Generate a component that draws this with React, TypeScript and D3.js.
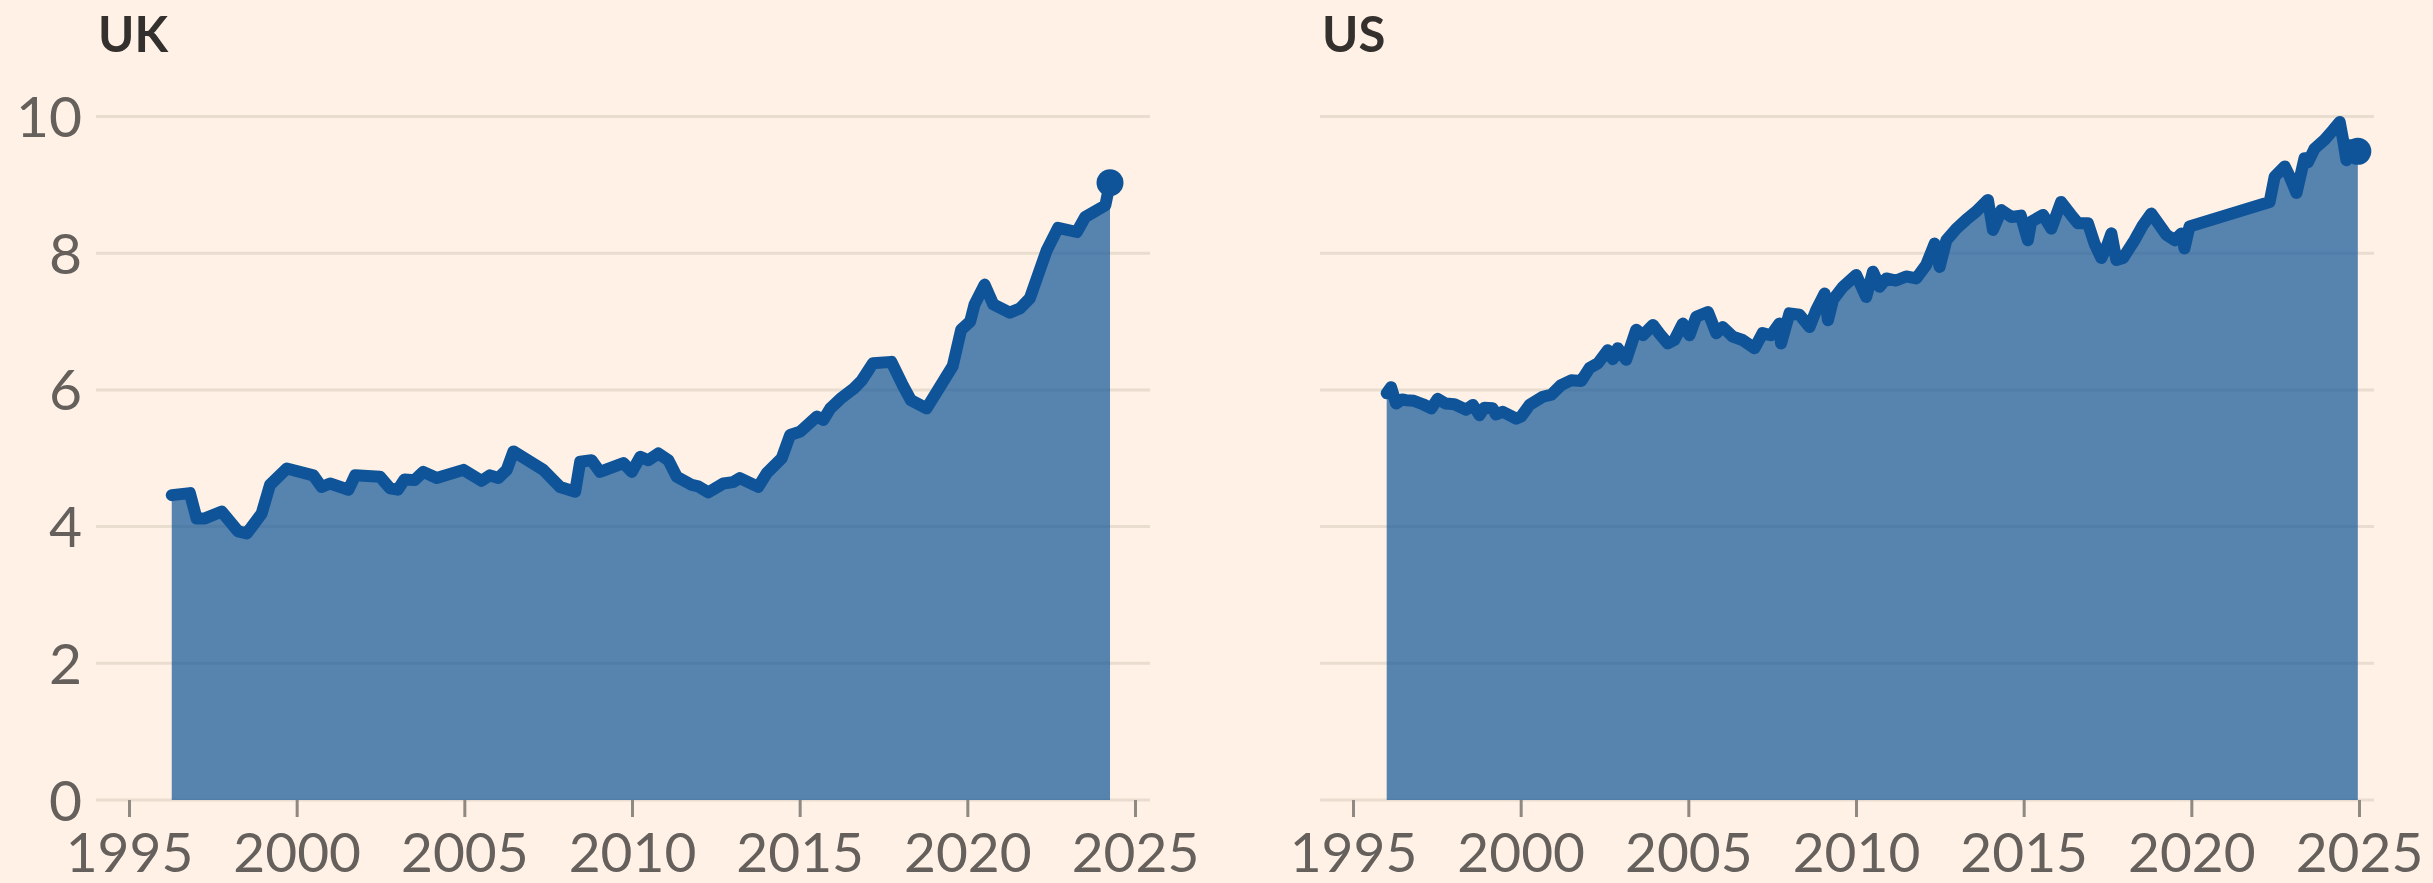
import React from "react";
import * as d3 from "d3";

const ukYears = [
  1996.26, 1996.8, 1997.0, 1997.25, 1997.75, 1998.24, 1998.5, 1998.94, 1999.19, 1999.69,
  2000.48, 2000.73, 2000.98, 2001.53, 2001.73, 2002.47, 2002.77, 2003.0, 2003.2, 2003.5,
  2003.76, 2004.16, 2004.96, 2005.5, 2005.75, 2006.0, 2006.25, 2006.45, 2007.34, 2007.84,
  2008.29, 2008.44, 2008.78, 2009.03, 2009.73, 2009.98, 2010.23, 2010.47, 2010.77, 2011.07,
  2011.32, 2011.77, 2011.96, 2012.26, 2012.71, 2013.0, 2013.2, 2013.75, 2014.0, 2014.45,
  2014.7, 2015.0, 2015.5, 2015.69, 2015.9, 2016.2, 2016.6, 2016.84, 2017.17, 2017.72,
  2018.07, 2018.3, 2018.77, 2019.55, 2019.8, 2020.07, 2020.2, 2020.5, 2020.76, 2021.25,
  2021.55, 2021.85, 2022.35, 2022.69, 2023.25, 2023.5, 2024.1, 2024.24,
];
const ukValues = [
  4.46, 4.49, 4.12, 4.12, 4.22, 3.93, 3.9, 4.19, 4.61, 4.85,
  4.75, 4.58, 4.63, 4.54, 4.75, 4.73, 4.56, 4.54, 4.69, 4.68,
  4.8, 4.71, 4.83, 4.67, 4.75, 4.71, 4.83, 5.1, 4.83, 4.58,
  4.51, 4.95, 4.97, 4.8, 4.93, 4.8, 5.02, 4.97, 5.07, 4.97,
  4.73, 4.61, 4.59, 4.5, 4.63, 4.65, 4.71, 4.58, 4.78, 5.0,
  5.34, 5.39, 5.61, 5.56, 5.73, 5.87, 6.02, 6.14, 6.39, 6.41,
  6.06, 5.85, 5.73, 6.35, 6.88, 7.0, 7.25, 7.54, 7.25, 7.13,
  7.19, 7.34, 8.04, 8.37, 8.31, 8.53, 8.7, 9.03,
];

const usYears = [
  1995.99, 1996.12, 1996.27, 1996.45, 1996.57, 1996.8, 1997.07, 1997.32, 1997.51, 1997.75,
  1998.01, 1998.36, 1998.56, 1998.76, 1998.9, 1999.15, 1999.25, 1999.45, 1999.85, 2000.0,
  2000.25, 2000.65, 2000.9, 2001.19, 2001.49, 2001.79, 2002.04, 2002.29, 2002.58, 2002.73,
  2002.88, 2003.13, 2003.43, 2003.63, 2003.93, 2004.13, 2004.37, 2004.57, 2004.82, 2005.02,
  2005.22, 2005.57, 2005.82, 2006.01, 2006.31, 2006.6, 2006.96, 2007.2, 2007.45, 2007.7,
  2007.75, 2008.0, 2008.3, 2008.6, 2008.8, 2009.05, 2009.15, 2009.3, 2009.6, 2009.99,
  2010.29, 2010.49, 2010.69, 2010.89, 2011.18, 2011.48, 2011.78, 2012.08, 2012.33, 2012.48,
  2012.68, 2012.98, 2013.27, 2013.57, 2013.92, 2014.07, 2014.32, 2014.62, 2014.9, 2015.11,
  2015.21, 2015.56, 2015.81, 2016.1, 2016.4, 2016.6, 2016.9, 2017.1, 2017.3, 2017.45,
  2017.6, 2017.75, 2017.95, 2018.29, 2018.54, 2018.79, 2019.04, 2019.24, 2019.49, 2019.69,
  2019.78, 2019.93, 2022.32, 2022.47, 2022.77, 2022.92, 2023.12, 2023.36, 2023.46, 2023.66,
  2023.96, 2024.21, 2024.41, 2024.51, 2024.61, 2024.71, 2024.95,
];
const usValues = [
  5.95, 6.04, 5.8, 5.86, 5.85, 5.84, 5.79, 5.73, 5.87, 5.8,
  5.79, 5.71, 5.78, 5.63, 5.74, 5.73, 5.64, 5.68, 5.58, 5.61,
  5.78, 5.9, 5.93, 6.07, 6.14, 6.13, 6.32, 6.39, 6.58, 6.45,
  6.61, 6.44, 6.88, 6.8, 6.95, 6.82, 6.68, 6.73, 6.97, 6.8,
  7.07, 7.14, 6.83, 6.92, 6.78, 6.73, 6.61, 6.83, 6.8, 6.97,
  6.68, 7.12, 7.1, 6.92, 7.17, 7.41, 7.02, 7.32, 7.51, 7.68,
  7.36, 7.73, 7.51, 7.63, 7.6, 7.66, 7.63, 7.83, 8.14, 7.8,
  8.19, 8.36, 8.49, 8.61, 8.78, 8.34, 8.63, 8.53, 8.55, 8.19,
  8.46, 8.56, 8.36, 8.75, 8.56, 8.44, 8.44, 8.14, 7.93, 8.08,
  8.29, 7.9, 7.93, 8.19, 8.41, 8.58, 8.41, 8.27, 8.19, 8.29,
  8.07, 8.39, 8.75, 9.12, 9.27, 9.12, 8.88, 9.39, 9.33, 9.53,
  9.66, 9.8, 9.92, 9.66, 9.36, 9.58, 9.49,
];

const yTicks = [0, 2, 4, 6, 8, 10];
const xTicks = [1995, 2000, 2005, 2010, 2015, 2020, 2025];
const panelTitles = ["UK", "US"];

const W = 2433;
const H = 883;
const BG = "#FFF1E5";
const LINE = "#0f5499";
const GRID = "#e9ddcf";
const TEXT = "#66605c";
const FONT = "Lato, 'Open Sans', sans-serif";

const yScale = d3.scaleLinear().domain([0, 10]).range([800, 116.5]);

type PanelProps = {
  left: number;
  title: string;
  years: number[];
  values: number[];
  showY: boolean;
};

function Panel({ left, title, years, values, showY }: PanelProps) {
  const gridW = 1054;
  const x = d3
    .scaleLinear()
    .domain([1995, 2025])
    .range([left + 33.5, left + 33.5 + 1006]);
  const data = years.map((yr, i) => ({ yr, v: values[i] }));
  const area = d3
    .area<{ yr: number; v: number }>()
    .x((d) => x(d.yr))
    .y0(yScale(0))
    .y1((d) => yScale(d.v));
  const line = d3
    .line<{ yr: number; v: number }>()
    .x((d) => x(d.yr))
    .y((d) => yScale(d.v));
  const last = data[data.length - 1];
  return (
    <g>
      <text
        x={left + 2}
        y={51.5}
        fontFamily={FONT}
        fontWeight={700}
        fontSize={49}
        fill="#33302e"
      >
        {title}
      </text>
      {yTicks.map((t) => (
        <line
          key={"g" + t}
          x1={left}
          x2={left + gridW}
          y1={yScale(t)}
          y2={yScale(t)}
          stroke={GRID}
          strokeWidth={3}
        />
      ))}
      {showY &&
        yTicks.map((t) => (
          <text
            key={"yl" + t}
            x={left - 14}
            y={yScale(t)}
            dy="0.36em"
            textAnchor="end"
            fontFamily={FONT}
            fontSize={57}
            fill={TEXT}
          >
            {t}
          </text>
        ))}
      <path d={area(data) || ""} fill={LINE} fillOpacity={0.7} />
      <path
        d={line(data) || ""}
        fill="none"
        stroke={LINE}
        strokeWidth={12}
        strokeLinejoin="round"
        strokeLinecap="round"
      />
      <circle cx={x(last.yr)} cy={yScale(last.v)} r={13.5} fill={LINE} />
      {xTicks.map((t) => (
        <g key={"x" + t}>
          <line
            x1={x(t)}
            x2={x(t)}
            y1={yScale(0)}
            y2={yScale(0) + 17}
            stroke="#8f8983"
            strokeWidth={3}
          />
          <text
            x={x(t)}
            y={872}
            textAnchor="middle"
            fontFamily={FONT}
            fontSize={55}
            fill={TEXT}
          >
            {t}
          </text>
        </g>
      ))}
    </g>
  );
}

export default function App() {
  return (
    <svg
      width={W}
      height={H}
      style={{ position: "absolute", left: 0, top: 0, display: "block" }}
    >
      <rect x={0} y={0} width={W} height={H} fill={BG} />
      <Panel left={96} title={panelTitles[0]} years={ukYears} values={ukValues} showY={true} />
      <Panel left={1320} title={panelTitles[1]} years={usYears} values={usValues} showY={false} />
    </svg>
  );
}
